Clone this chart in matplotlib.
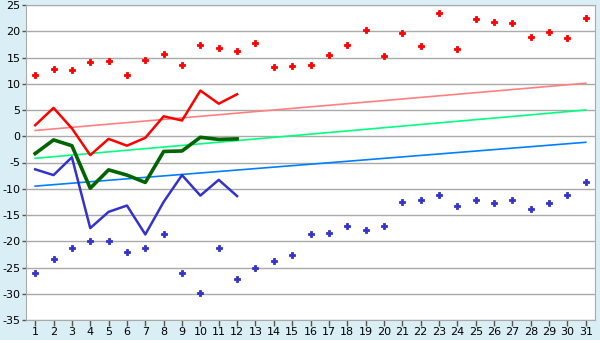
import matplotlib
matplotlib.use("Agg")
import matplotlib.pyplot as plt
import numpy as np

plt.rcParams["axes.unicode_minus"] = False

days = np.arange(1, 32)
line_days = np.arange(1, 13)

# daily extremes (dots)
max_dots = [11.6, 12.9, 12.7, 14.1, 14.3, 11.6, 14.5, 15.7, 13.5, 17.4,
            16.9, 16.2, 17.7, 13.1, 13.3, 13.5, 15.4, 17.3, 20.2, 15.2,
            19.6, 17.1, 23.4, 16.7, 22.3, 21.7, 21.5, 19.0, 19.8, 18.8, 22.6]
min_dots = [-26.1, -23.3, -21.2, -20.0, -20.0, -22.1, -21.2, -18.6, -26.1, -29.9,
            -21.2, -27.2, -25.0, -23.8, -22.7, -18.7, -18.4, -17.0, -17.9, -17.0,
            -12.6, -12.2, -11.1, -13.2, -12.2, -12.8, -12.2, -13.9, -12.8, -11.1, -8.8]

# current month lines
tmax = [2.1, 5.4, 1.5, -3.6, -0.5, -1.8, -0.3, 3.8, 3.0, 8.7, 6.2, 8.0]
tmean = [-3.3, -0.7, -1.8, -9.9, -6.4, -7.4, -8.8, -2.9, -2.8, -0.2, -0.6, -0.5]
tmin = [-6.3, -7.4, -4.0, -17.5, -14.4, -13.2, -18.7, -12.5, -7.4, -11.3, -8.3, -11.4]

# normals (start, end of month)
norm_days = [1, 31]
norm_max = [1.1, 10.1]
norm_mean = [-4.2, 5.0]
norm_min = [-9.5, -1.15]

fig = plt.figure(figsize=(6, 3.4), dpi=100, facecolor="#daeef5")
ax = fig.add_axes([26 / 600, 20 / 340, 569 / 600, 315 / 340])
ax.set_facecolor("white")

ax.plot(norm_days, norm_max, color="#ff8080", lw=1.2)
ax.plot(norm_days, norm_mean, color="#00ff80", lw=1.2)
ax.plot(norm_days, norm_min, color="#0080ff", lw=1.2)

ax.plot(line_days, tmax, color="#ff0000", lw=1.8)
ax.plot(line_days, tmean, color="#006400", lw=2.6)
ax.plot(line_days, tmin, color="#3333cc", lw=1.8)

ax.plot(days, max_dots, ls="none", marker="P", ms=4.5, color="#ff0000", mew=0.6)
ax.plot(days, min_dots, ls="none", marker="P", ms=4.5, color="#3333cc", mew=0.6)

ax.set_xlim(0.5, 31.5)
ax.set_ylim(-35, 25)
ax.set_xticks(days)
ax.set_yticks(np.arange(-35, 26, 5))
ax.yaxis.grid(True, color="#aaaaaa", lw=1)
ax.set_axisbelow(True)
for s in ax.spines.values():
    s.set_color("#aaaaaa")
ax.tick_params(colors="#555555", labelcolor="black", labelsize=8, width=1)
ax.tick_params(axis="x", direction="out", length=4, pad=1)
ax.tick_params(axis="y", direction="out", length=3, pad=1)

fig.savefig("out.png", dpi=100, facecolor=fig.get_facecolor())
